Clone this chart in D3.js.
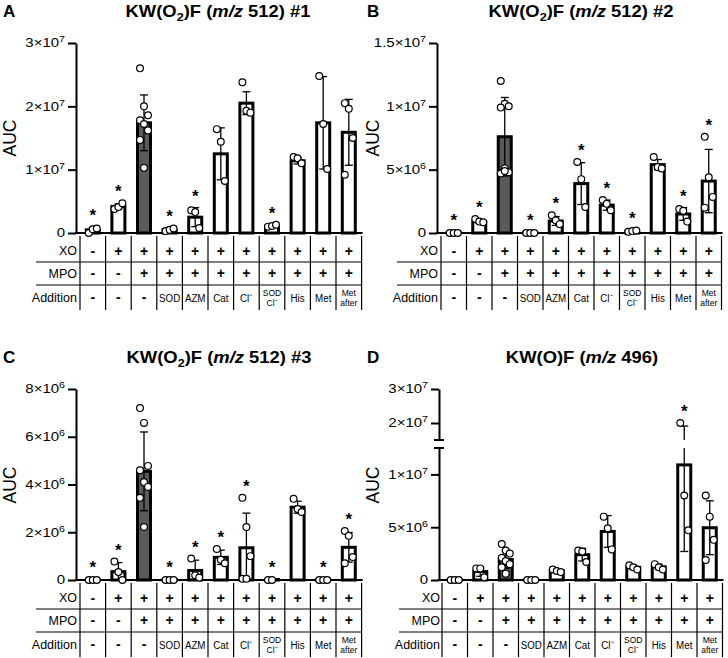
<!DOCTYPE html>
<html>
<head>
<meta charset="utf-8">
<script src="https://cdn.jsdelivr.net/npm/d3@7"></script>
<style>
  html, body { margin: 0; padding: 0; background: #fff; }
  svg { display: block; font-family: "Liberation Sans", Arial, Helvetica, sans-serif; }
</style>
</head>
<body>
<script>
// ---------------- DATA ----------------
const rowXO  = ["-", "+", "+", "+", "+", "+", "+", "+", "+", "+", "+"];
const rowMPO = ["-", "-", "+", "+", "+", "+", "+", "+", "+", "+", "+"];
const rowAddition = [["-"], ["-"], ["-"], ["SOD"], ["AZM"], ["Cat"], ["Cl⁻"], ["SOD", "Cl⁻"], ["His"], ["Met"], ["Met", "after"]];

// Panel A: KW(O2)F (m/z 512) #1
const aTicks = [0, 1e7, 2e7, 3e7];
const aTickLabels = ["0", "1×10^7", "2×10^7", "3×10^7"];
const aMeans = [0.05e7, 0.42e7, 1.74e7, 0.05e7, 0.25e7, 1.25e7, 2.05e7, 0.11e7, 1.14e7, 1.74e7, 1.59e7];
const aSD    = [0.04e7, 0.04e7, 0.44e7, 0.03e7, 0.15e7, 0.41e7, 0.18e7, 0.02e7, 0.05e7, 0.73e7, 0.52e7];
const aPoints = [
  [0.0, 0.06e7, 0.07e7],
  [0.38e7, 0.41e7, 0.47e7],
  [2.6e7, 2.0e7, 1.86e7, 1.78e7, 1.72e7, 1.62e7, 1.47e7, 1.03e7],
  [0.03e7, 0.05e7, 0.07e7],
  [0.36e7, 0.33e7, 0.08e7],
  [1.64e7, 1.44e7, 0.82e7],
  [2.38e7, 1.93e7, 1.9e7],
  [0.1e7, 0.11e7, 0.13e7],
  [1.2e7, 1.18e7, 1.1e7],
  [2.48e7, 1.72e7, 1.01e7],
  [2.05e7, 1.96e7, 1.5e7, 0.92e7]
];
const aStars = [1, 1, 0, 1, 1, 0, 0, 1, 0, 0, 0];

// Panel B: KW(O2)F (m/z 512) #2
const bTicks = [0, 5e6, 1e7, 1.5e7];
const bTickLabels = ["0", "5×10^6", "1×10^7", "1.5×10^7"];
const bMeans = [0.05e6, 0.9e6, 7.6e6, 0.05e6, 0.95e6, 3.9e6, 2.2e6, 0.12e6, 5.4e6, 1.5e6, 4.1e6];
const bSD    = [0.03e6, 0.1e6, 3.1e6, 0.03e6, 0.35e6, 1.65e6, 0.4e6, 0.06e6, 0.4e6, 0.5e6, 2.5e6];
const bPoints = [
  [0, 0, 0],
  [1.1e6, 0.9e6, 0.85e6],
  [12.0e6, 10.2e6, 10.0e6, 9.9e6, 5.1e6, 4.8e6, 4.7e6, 4.9e6],
  [0, 0, 0],
  [1.4e6, 1.0e6, 0.7e6],
  [5.6e6, 4.25e6, 2.05e6],
  [2.6e6, 2.3e6, 1.8e6],
  [0.1e6, 0.15e6, 0.2e6],
  [6.0e6, 5.2e6, 5.1e6],
  [1.9e6, 1.75e6, 0.9e6],
  [7.6e6, 4.4e6, 2.85e6, 2.0e6]
];
const bStars = [1, 1, 0, 1, 1, 1, 1, 1, 0, 1, 1];

// Panel C: KW(O2)F (m/z 512) #3
const cTicks = [0, 2e6, 4e6, 6e6, 8e6];
const cTickLabels = ["0", "2×10^6", "4×10^6", "6×10^6", "8×10^6"];
const cMeans = [0.02e6, 0.35e6, 4.55e6, 0.02e6, 0.4e6, 0.95e6, 1.35e6, 0.02e6, 3.05e6, 0.02e6, 1.37e6];
const cSD    = [0.01e6, 0.38e6, 1.65e6, 0.01e6, 0.43e6, 0.3e6, 1.45e6, 0.01e6, 0.25e6, 0.01e6, 0.62e6];
const cPoints = [
  [0, 0, 0],
  [0.77e6, 0.33e6, 0.0],
  [7.2e6, 6.58e6, 4.78e6, 4.6e6, 4.1e6, 3.9e6, 3.44e6, 2.22e6],
  [0, 0, 0],
  [0.9e6, 0.2e6, 0.1e6],
  [1.3e6, 0.85e6, 0.7e6],
  [3.44e6, 2.22e6, 1.0e6, 0.05e6, 0.05e6],
  [0, 0],
  [3.4e6, 2.97e6, 2.85e6],
  [0, 0, 0],
  [2.05e6, 1.85e6, 0.96e6, 0.7e6]
];
const cStars = [1, 1, 0, 1, 1, 1, 1, 1, 0, 1, 1];

// Panel D: KW(O)F (m/z 496)  (broken axis)
const dTicksLow = [0, 5e6, 1e7];
const dTickLabelsLow = ["0", "5×10^6", "1×10^7"];
const dTicksHigh = [2e7, 3e7];
const dTickLabelsHigh = ["2×10^7", "3×10^7"];
const dMeans = [0.02e6, 0.8e6, 1.95e6, 0.02e6, 0.85e6, 2.4e6, 4.6e6, 1.2e6, 1.25e6, 10.9e6, 4.95e6];
const dSD    = [0.01e6, 0.45e6, 0.85e6, 0.01e6, 0.15e6, 0.6e6, 1.5e6, 0.2e6, 0.25e6, 8.2e6, 2.55e6];
const dPoints = [
  [0, 0, 0],
  [1.1e6, 1.1e6, 0.25e6],
  [3.4e6, 2.8e6, 2.5e6, 2.1e6, 1.8e6, 1.5e6, 1.2e6, 0.6e6],
  [0, 0, 0],
  [1.0e6, 0.85e6, 0.75e6],
  [2.8e6, 2.7e6, 1.7e6],
  [6.0e6, 4.9e6, 2.9e6],
  [1.4e6, 1.2e6, 1.0e6],
  [1.5e6, 1.2e6, 1.0e6],
  [20e6, 8.0e6, 4.7e6],
  [8.0e6, 6.0e6, 3.8e6, 1.9e6]
];
const dStars = [0, 0, 0, 0, 0, 0, 0, 0, 0, 1, 0];

// ---------------- DRAWING ----------------
const HIGHLIGHT = 2;
const DARK = "#5a5a5a";
const svg = d3.select("body").append("svg").attr("width", 728).attr("height", 658);

function stext(parent, x, y, sx, anchor, size, weight) {
  const g = parent.append("g").attr("transform", `translate(${x},${y}) scale(${sx},1)`);
  return g.append("text").attr("text-anchor", anchor).attr("font-size", size)
    .attr("font-weight", weight || "normal").attr("fill", "#000");
}

function tickText(parent, x, y, label) {
  const t = stext(parent, x, y, 1.25, "end", 12);
  const parts = label.split("^");
  t.append("tspan").text(parts[0]);
  if (parts[1]) t.append("tspan").attr("font-size", 8.5).attr("dy", -5).text(parts[1]);
}

function drawPanel(cfg) {
  const g = svg.append("g");
  const n = cfg.means.length;
  const colEnd = cfg.colStart + n * cfg.colW;
  const x = d3.scaleBand().domain(d3.range(n)).range([cfg.colStart, colEnd]);
  const cx = i => x(i) + x.bandwidth() / 2;
  const y = cfg.y;
  const y0 = cfg.y0;

  // title
  const tt = stext(g, cfg.titleX, cfg.titleY, 1.15, "middle", 16, "bold");
  cfg.title.forEach(p => {
    const ts = tt.append("tspan").text(p.t);
    if (p.sub) ts.attr("font-size", 11).attr("dy", 4);
    if (p.unsub) ts.attr("dy", -4);
    if (p.it) ts.attr("font-style", "italic");
  });
  // letter
  g.append("text").attr("x", cfg.letterX).attr("y", cfg.letterY).attr("font-size", 17)
    .attr("font-weight", "bold").text(cfg.letter);
  // AUC
  g.append("text").attr("transform", `translate(${cfg.aucX},${cfg.aucY}) rotate(-90)`)
    .attr("text-anchor", "middle").attr("font-size", 17.5).text("AUC");

  // y axes
  cfg.axes.forEach(ax => {
    const axis = d3.axisLeft(ax.scale).tickValues(ax.ticks).tickSize(8).tickSizeOuter(0).tickFormat("");
    const ag = g.append("g").attr("transform", `translate(${cfg.axisX},0)`).call(axis);
    ag.select(".domain").attr("stroke", "#000").attr("stroke-width", 2);
    ag.selectAll(".tick line").attr("stroke", "#000").attr("stroke-width", 2);
    ax.ticks.forEach((v, i) => tickText(g, cfg.axisX - 11, ax.scale(v) + 4.3, ax.labels[i]));
  });
  if (cfg.breaks) {
    cfg.breaks.forEach(by => g.append("line").attr("x1", cfg.axisX - 5).attr("x2", cfg.axisX + 5)
      .attr("y1", by).attr("y2", by).attr("stroke", "#000").attr("stroke-width", 2));
  }
  // x axis
  g.append("line").attr("x1", cfg.axisX - 1).attr("x2", colEnd + 1).attr("y1", y0).attr("y2", y0)
    .attr("stroke", "#000").attr("stroke-width", 2);

  // bars
  g.selectAll(".bar").data(cfg.means).enter().append("rect")
    .attr("x", (d, i) => cx(i) - 6.5).attr("width", 13)
    .attr("y", d => y(d)).attr("height", d => Math.max(0.01, y0 - y(d)))
    .attr("fill", (d, i) => i === HIGHLIGHT ? DARK : "#fff")
    .attr("stroke", "#000").attr("stroke-width", 3);

  // error bars
  cfg.means.forEach((m, i) => {
    const lo = Math.max(0, m - cfg.sds[i]), hi = m + cfg.sds[i];
    const segs = cfg.segments ? cfg.segments(lo, hi) : [[y(lo), y(hi)]];
    segs.forEach(s => g.append("line").attr("x1", cx(i)).attr("x2", cx(i)).attr("y1", s[0]).attr("y2", s[1])
      .attr("stroke", "#000").attr("stroke-width", 1.3));
    [lo, hi].forEach(v => g.append("line").attr("x1", cx(i) - 4).attr("x2", cx(i) + 4)
      .attr("y1", y(v)).attr("y2", y(v)).attr("stroke", "#000").attr("stroke-width", 1.3));
  });

  // points
  cfg.points.forEach((pts, i) => {
    g.selectAll(null).data(pts).enter().append("circle")
      .attr("cx", (d, j) => cx(i) + ((j % 3) - 1) * 4)
      .attr("cy", d => y(d)).attr("r", 3.4)
      .attr("fill", "#fff").attr("stroke", "#000").attr("stroke-width", 1.2);
  });

  // stars
  cfg.stars.forEach((s, i) => {
    if (!s) return;
    const top = Math.max(d3.max(cfg.points[i]), cfg.means[i] + cfg.sds[i]);
    g.append("text").attr("x", cx(i)).attr("y", y(top) - 6).attr("text-anchor", "middle")
      .attr("font-size", 17).attr("font-weight", "bold").text("*");
  });

  // table
  const rows = [
    { label: "XO", vals: rowXO, cy: y0 + 18 },
    { label: "MPO", vals: rowMPO, cy: y0 + 40.5 },
    { label: "Addition", vals: rowAddition, cy: y0 + 64.5 }
  ];
  d3.range(n + 1).forEach(i => {
    const lx = cfg.colStart + i * cfg.colW;
    g.append("line").attr("x1", lx).attr("x2", lx).attr("y1", y0 + 3).attr("y2", y0 + 77)
      .attr("stroke", "#000").attr("stroke-width", 1.2);
  });
  [y0 + 29, y0 + 52].forEach(ly => g.append("line").attr("x1", cfg.axisX - 40).attr("x2", colEnd)
    .attr("y1", ly).attr("y2", ly).attr("stroke", "#000").attr("stroke-width", 1.2));
  rows.forEach(r => {
    g.append("text").attr("x", cfg.axisX + 1).attr("y", r.cy + 4.3).attr("text-anchor", "end")
      .attr("font-size", 12.5).text(r.label);
    r.vals.forEach((v, i) => {
      if (Array.isArray(v)) {
        if (v.length === 1 && v[0] === "-") {
          g.append("text").attr("x", cx(i)).attr("y", r.cy + 4.8).attr("text-anchor", "middle")
            .attr("font-size", 14).attr("font-weight", "bold").text("-");
        } else if (v.length === 1) {
          stext(g, cx(i), r.cy + 4, 0.85, "middle", 11.5).text(v[0]);
        } else {
          v.forEach((lab, k) => {
            stext(g, cx(i), r.cy + (k === 0 ? -1.8 : 8.6), 0.9, "middle", 9.5).text(lab);
          });
        }
      } else {
        g.append("text").attr("x", cx(i)).attr("y", r.cy + 4.8).attr("text-anchor", "middle")
          .attr("font-size", 14).attr("font-weight", "bold").text(v);
      }
    });
  });
}

const title512 = k => [{ t: "KW(O" }, { t: "2", sub: true }, { t: ")F (", unsub: true }, { t: "m/z", it: true }, { t: " 512) #" + k }];

// A
const yA = d3.scaleLinear().domain([0, 3e7]).range([233, 43]);
drawPanel({ axisX: 76, colStart: 80, colW: 25.6, y0: 233, y: yA,
  axes: [{ scale: yA, ticks: aTicks, labels: aTickLabels }],
  means: aMeans, sds: aSD, points: aPoints, stars: aStars,
  title: title512(1), titleX: 218, titleY: 16.5, letter: "A", letterX: 3, letterY: 16.5, aucX: 16, aucY: 138 });

// B
const yB = d3.scaleLinear().domain([0, 1.5e7]).range([233, 43]);
drawPanel({ axisX: 437, colStart: 441, colW: 25.5, y0: 233, y: yB,
  axes: [{ scale: yB, ticks: bTicks, labels: bTickLabels }],
  means: bMeans, sds: bSD, points: bPoints, stars: bStars,
  title: title512(2), titleX: 581, titleY: 16.5, letter: "B", letterX: 367, letterY: 16.5, aucX: 379, aucY: 138 });

// C
const yC = d3.scaleLinear().domain([0, 8e6]).range([580, 389]);
drawPanel({ axisX: 76, colStart: 80, colW: 25.6, y0: 580, y: yC,
  axes: [{ scale: yC, ticks: cTicks, labels: cTickLabels }],
  means: cMeans, sds: cSD, points: cPoints, stars: cStars,
  title: title512(3), titleX: 219, titleY: 362.5, letter: "C", letterX: 3, letterY: 362.5, aucX: 16, aucY: 485 });

// D (broken axis)
const yDlow = d3.scaleLinear().domain([0, 12.5e6]).range([580, 448]);
const yDhigh = d3.scaleLinear().domain([15e6, 30e6]).range([440, 389]);
const yD = v => v <= 12.5e6 ? yDlow(v) : (v >= 15e6 ? yDhigh(v) : 444);
drawPanel({ axisX: 439, colStart: 442, colW: 25.5, y0: 580, y: yD,
  axes: [{ scale: yDlow, ticks: dTicksLow, labels: dTickLabelsLow },
         { scale: yDhigh, ticks: dTicksHigh, labels: dTickLabelsHigh }],
  breaks: [440, 448],
  segments: (lo, hi) => {
    if (hi <= 12.5e6 || lo >= 15e6) return [[yD(lo), yD(hi)]];
    return [[yD(lo), 448], [440, yD(hi)]];
  },
  means: dMeans, sds: dSD, points: dPoints, stars: dStars,
  title: [{ t: "KW(O)F (" }, { t: "m/z", it: true }, { t: " 496)" }],
  titleX: 582, titleY: 362.5, letter: "D", letterX: 367, letterY: 362.5, aucX: 379, aucY: 485 });
</script>
</body>
</html>
